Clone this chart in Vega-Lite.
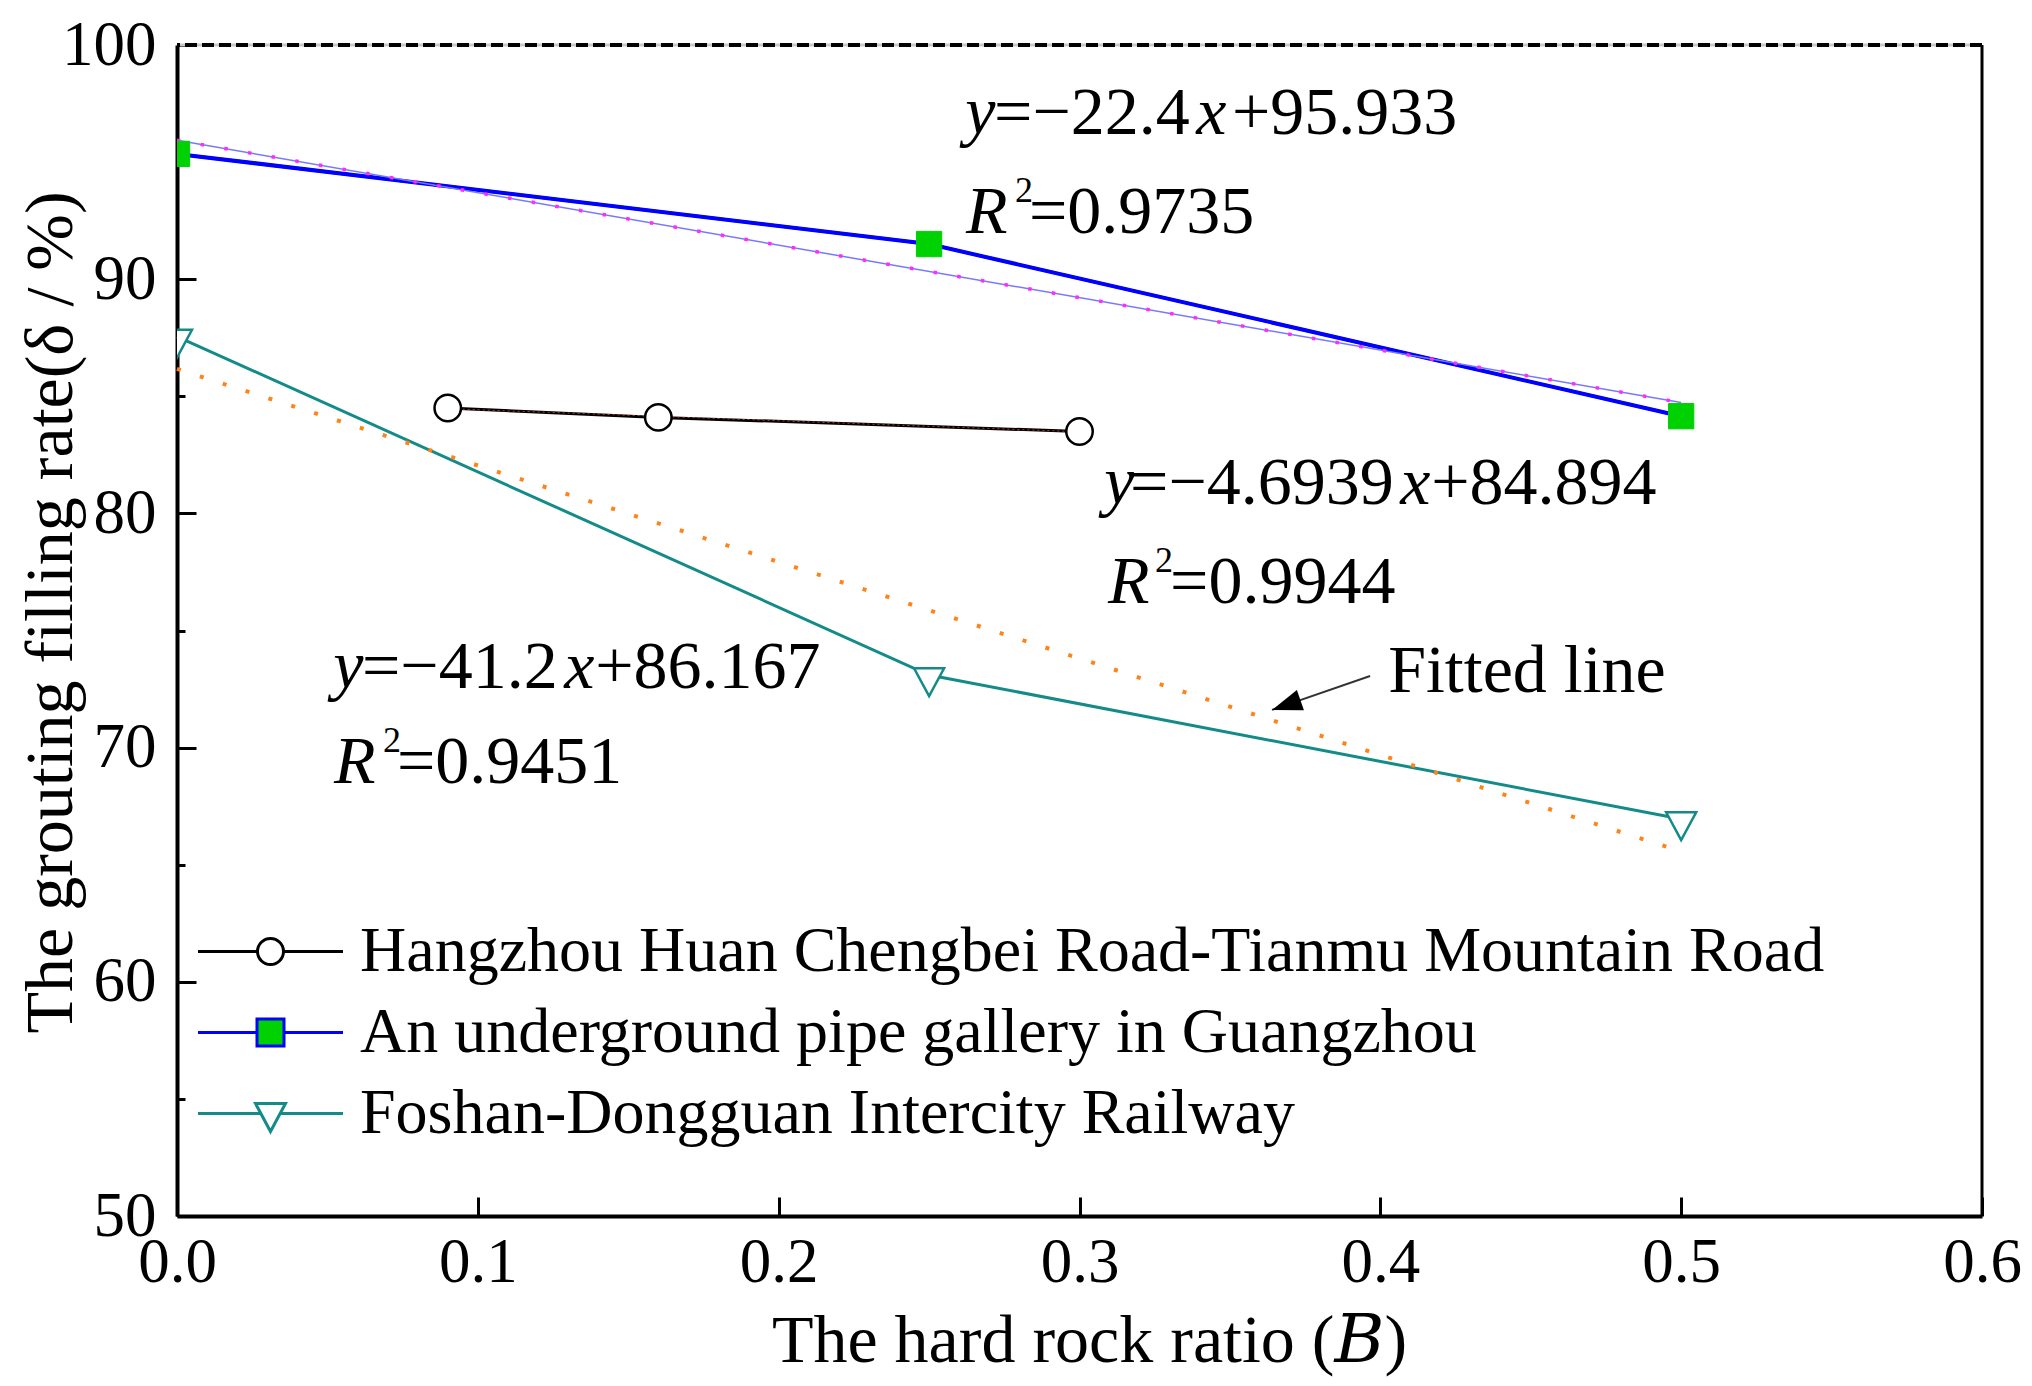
{
  "$schema": "https://vega.github.io/schema/vega-lite/v6.json",
  "width": 1805,
  "height": 1171,
  "autosize": "none",
  "padding": {"left": 177, "top": 45, "right": 50, "bottom": 170},
  "background": "white",
  "datasets": {
    "obs": [
      {"project": "Hangzhou Huan Chengbei Road-Tianmu Mountain Road", "B": 0.09, "rate": 84.5},
      {"project": "Hangzhou Huan Chengbei Road-Tianmu Mountain Road", "B": 0.16, "rate": 84.1},
      {"project": "Hangzhou Huan Chengbei Road-Tianmu Mountain Road", "B": 0.30, "rate": 83.5},
      {"project": "An underground pipe gallery in Guangzhou", "B": 0.0, "rate": 95.35},
      {"project": "An underground pipe gallery in Guangzhou", "B": 0.25, "rate": 91.5},
      {"project": "An underground pipe gallery in Guangzhou", "B": 0.5, "rate": 84.15},
      {"project": "Foshan-Dongguan Intercity Railway", "B": 0.0, "rate": 87.55},
      {"project": "Foshan-Dongguan Intercity Railway", "B": 0.25, "rate": 73.1},
      {"project": "Foshan-Dongguan Intercity Railway", "B": 0.5, "rate": 66.95}
    ],
    "fits": [
      {"project": "Hangzhou Huan Chengbei Road-Tianmu Mountain Road", "B": 0.09, "rate": 84.472},
      {"project": "Hangzhou Huan Chengbei Road-Tianmu Mountain Road", "B": 0.30, "rate": 83.486},
      {"project": "An underground pipe gallery in Guangzhou", "B": 0.0, "rate": 95.933},
      {"project": "An underground pipe gallery in Guangzhou", "B": 0.5, "rate": 84.733},
      {"project": "Foshan-Dongguan Intercity Railway", "B": 0.0, "rate": 86.167},
      {"project": "Foshan-Dongguan Intercity Railway", "B": 0.5, "rate": 65.567}
    ],
    "italic": [
      {"t": "y", "B": 0.2620, "rate": 96.2},
      {"t": "x", "B": 0.3388, "rate": 96.2},
      {"t": "R", "B": 0.2623, "rate": 91.97},
      {"t": "y", "B": 0.3082, "rate": 80.4},
      {"t": "x", "B": 0.4066, "rate": 80.4},
      {"t": "R", "B": 0.3095, "rate": 76.17},
      {"t": "y", "B": 0.0519, "rate": 72.54},
      {"t": "x", "B": 0.1287, "rate": 72.54},
      {"t": "R", "B": 0.0522, "rate": 68.49}
    ],
    "roman": [
      {"t": "=−22.4", "B": 0.2716, "rate": 96.2},
      {"t": "+95.933", "B": 0.3507, "rate": 96.2},
      {"t": "=0.9735", "B": 0.2832, "rate": 91.97},
      {"t": "=−4.6939", "B": 0.3168, "rate": 80.4},
      {"t": "+84.894", "B": 0.4169, "rate": 80.4},
      {"t": "=0.9944", "B": 0.3301, "rate": 76.17},
      {"t": "=−41.2", "B": 0.0615, "rate": 72.54},
      {"t": "+86.167", "B": 0.1390, "rate": 72.54},
      {"t": "=0.9451", "B": 0.0731, "rate": 68.49},
      {"t": "Fitted line", "B": 0.4026, "rate": 72.37}
    ],
    "sup": [
      {"t": "2", "B": 0.2786, "rate": 93.3},
      {"t": "2", "B": 0.3251, "rate": 77.5},
      {"t": "2", "B": 0.0685, "rate": 69.81}
    ],
    "arrow": [
      {"B": 0.3966, "rate": 73.06, "B2": 0.364, "rate2": 71.61}
    ]
  },
  "layer": [
    {
      "layer": [
        {
          "data": {"values": [{}]},
          "mark": {"type": "rule", "color": "#c8c8c8", "strokeWidth": 3},
          "encoding": {"y": {"datum": 100}}
        },
        {
          "data": {"values": [{}]},
          "mark": {"type": "rule", "color": "#000000", "strokeWidth": 3},
          "encoding": {"x": {"datum": 0.6}}
        },
        {
          "data": {"name": "obs"},
          "mark": {"type": "line", "strokeWidth": 3},
          "encoding": {
            "x": {
              "field": "B", "type": "quantitative",
              "scale": {"domain": [0, 0.6], "nice": false, "zero": false},
              "axis": {
                "values": [0, 0.1, 0.2, 0.3, 0.4, 0.5, 0.6],
                "format": ".1f",
                "title": "The hard rock ratio (𝐵)",
                "titleX": 912, "titleY": 145,
                "titleBaseline": "alphabetic",
                "titleAnchor": "middle",
                "tickSize": -19,
                "labelPadding": 34,
                "labelFlush": false
              }
            },
            "y": {
              "field": "rate", "type": "quantitative",
              "scale": {"domain": [50, 100], "nice": false, "zero": false},
              "axis": {
                "values": [50, 60, 70, 80, 90, 100],
                "title": "The grouting filling rate(δ / %)",
                "titleX": -106, "titleY": 567,
                "titleAngle": -90,
                "titleBaseline": "alphabetic",
                "titleAnchor": "middle",
                "tickSize": -19,
                "labelPadding": 40,
                "labelFlush": false
              }
            },
            "color": {
              "field": "project", "type": "nominal",
              "scale": {
                "domain": ["Hangzhou Huan Chengbei Road-Tianmu Mountain Road", "An underground pipe gallery in Guangzhou", "Foshan-Dongguan Intercity Railway"],
                "range": ["#000000", "#0000ff", "#128b89"]
              },
              "legend": {
                "orient": "none",
                "legendX": 52,
                "legendY": 865,
                "title": null,
                "padding": 0,
                "labelFont": "Liberation Serif",
                "labelFontSize": 64,
                "labelColor": "#000000",
                "labelLimit": 0,
                "labelOffset": 48,
                "rowPadding": 7,
                "symbolSize": 6400,
                "symbolStrokeWidth": 3,
                "encode": {
                  "symbols": {
                    "update": {
                      "shape": {"signal": "datum.value === 'Hangzhou Huan Chengbei Road-Tianmu Mountain Road' ? 'M-1.8125,0H-0.325M0.325,0H1.8125M-0.325,0A0.325,0.325,0,1,1,0.325,0A0.325,0.325,0,1,1,-0.325,0Z' : datum.value === 'An underground pipe gallery in Guangzhou' ? 'M-1.8125,0H-0.3375M0.3375,0H1.8125M-0.3375,-0.3375H0.3375V0.3375H-0.3375Z' : 'M-1.8125,0H-0.241M0.241,0H1.8125M-0.375,-0.25H0.375L0,0.45Z'"},
                      "fill": {"signal": "datum.value === 'An underground pipe gallery in Guangzhou' ? '#00d100' : '#ffffff'"}
                    }
                  }
                }
              }
            }
          }
        },
        {
          "data": {"name": "obs"},
          "transform": [{"filter": "datum.project === 'An underground pipe gallery in Guangzhou'"}],
          "mark": {"type": "line", "color": "#0000ff", "strokeWidth": 4},
          "encoding": {
            "x": {"field": "B", "type": "quantitative"},
            "y": {"field": "rate", "type": "quantitative"}
          }
        },
        {
          "data": {"name": "fits"},
          "transform": [{"filter": "datum.project === 'An underground pipe gallery in Guangzhou'"}],
          "mark": {"type": "line", "color": "#7878ff", "strokeWidth": 1.5},
          "encoding": {
            "x": {"field": "B", "type": "quantitative"},
            "y": {"field": "rate", "type": "quantitative"}
          }
        },
        {
          "data": {"name": "fits"},
          "transform": [{"filter": "datum.project === 'An underground pipe gallery in Guangzhou'"}],
          "mark": {"type": "line", "color": "#ff2bff", "strokeWidth": 3.5, "strokeDash": [3.5, 20.5]},
          "encoding": {
            "x": {"field": "B", "type": "quantitative"},
            "y": {"field": "rate", "type": "quantitative"}
          }
        },
        {
          "data": {"name": "fits"},
          "transform": [{"filter": "datum.project === 'Foshan-Dongguan Intercity Railway'"}],
          "mark": {"type": "line", "color": "#ff8418", "strokeWidth": 4, "strokeDash": [4, 20]},
          "encoding": {
            "x": {"field": "B", "type": "quantitative"},
            "y": {"field": "rate", "type": "quantitative"}
          }
        },
        {
          "data": {"name": "fits"},
          "transform": [{"filter": "datum.project === 'Hangzhou Huan Chengbei Road-Tianmu Mountain Road'"}],
          "mark": {"type": "line", "color": "#ff5050", "strokeWidth": 1, "strokeDash": [2, 3], "opacity": 0.7},
          "encoding": {
            "x": {"field": "B", "type": "quantitative"},
            "y": {"field": "rate", "type": "quantitative"}
          }
        },
        {
          "data": {"name": "obs"},
          "transform": [{"filter": "datum.project === 'Hangzhou Huan Chengbei Road-Tianmu Mountain Road'"}],
          "mark": {"type": "point", "shape": "circle", "size": 700, "fill": "#ffffff", "stroke": "#000000", "strokeWidth": 2.5, "opacity": 1, "clip": true},
          "encoding": {
            "x": {"field": "B", "type": "quantitative"},
            "y": {"field": "rate", "type": "quantitative"}
          }
        },
        {
          "data": {"name": "obs"},
          "transform": [{"filter": "datum.project === 'An underground pipe gallery in Guangzhou'"}],
          "mark": {"type": "point", "shape": "square", "size": 640, "fill": "#00d100", "stroke": "#00d100", "strokeWidth": 1, "opacity": 1, "clip": true},
          "encoding": {
            "x": {"field": "B", "type": "quantitative"},
            "y": {"field": "rate", "type": "quantitative"}
          }
        },
        {
          "data": {"name": "obs"},
          "transform": [{"filter": "datum.project === 'Foshan-Dongguan Intercity Railway'"}],
          "mark": {"type": "point", "shape": "M-1,-0.45L1,-0.45L0,1.4Z", "size": 900, "fill": "#ffffff", "stroke": "#128b89", "strokeWidth": 2.5, "opacity": 1, "clip": true},
          "encoding": {
            "x": {"field": "B", "type": "quantitative"},
            "y": {"field": "rate", "type": "quantitative"}
          }
        },
        {
          "data": {"name": "arrow"},
          "mark": {"type": "rule", "color": "#333333", "strokeWidth": 2},
          "encoding": {
            "x": {"field": "B", "type": "quantitative"},
            "y": {"field": "rate", "type": "quantitative"},
            "x2": {"field": "B2"},
            "y2": {"field": "rate2"}
          }
        },
        {
          "data": {"name": "arrow"},
          "mark": {"type": "point", "shape": "M0,0L-0.36,1L0.36,1Z", "size": 3600, "angle": 251, "filled": true, "color": "#000000", "opacity": 1},
          "encoding": {
            "x": {"field": "B2", "type": "quantitative"},
            "y": {"field": "rate2", "type": "quantitative"}
          }
        },
        {
          "data": {"name": "italic"},
          "mark": {"type": "text", "font": "Liberation Serif", "fontStyle": "italic", "fontSize": 68, "align": "left", "baseline": "alphabetic", "color": "#000000"},
          "encoding": {
            "x": {"field": "B", "type": "quantitative"},
            "y": {"field": "rate", "type": "quantitative"},
            "text": {"field": "t"}
          }
        },
        {
          "data": {"name": "roman"},
          "mark": {"type": "text", "font": "Liberation Serif", "fontSize": 68, "align": "left", "baseline": "alphabetic", "color": "#000000"},
          "encoding": {
            "x": {"field": "B", "type": "quantitative"},
            "y": {"field": "rate", "type": "quantitative"},
            "text": {"field": "t"}
          }
        },
        {
          "data": {"name": "sup"},
          "mark": {"type": "text", "font": "Liberation Serif", "fontSize": 36, "align": "left", "baseline": "alphabetic", "color": "#000000"},
          "encoding": {
            "x": {"field": "B", "type": "quantitative"},
            "y": {"field": "rate", "type": "quantitative"},
            "text": {"field": "t"}
          }
        }
      ]
    },
    {
      "data": {"values": [{}]},
      "mark": {"type": "rule", "color": "#000000", "strokeWidth": 4, "strokeDash": [12, 5]},
      "encoding": {
        "y": {
          "datum": 100,
          "axis": {
            "orient": "left",
            "values": [55, 65, 75, 85, 95],
            "tickSize": -8,
            "labels": false,
            "domain": false,
            "title": null,
            "grid": false
          }
        }
      }
    }
  ],
  "resolve": {"axis": {"y": "independent"}},
  "config": {
    "view": {"stroke": null},
    "axis": {
      "grid": false,
      "domainColor": "#000000",
      "domainWidth": 4,
      "tickColor": "#000000",
      "tickWidth": 3,
      "labelFont": "Liberation Serif",
      "labelFontSize": 63,
      "labelColor": "#000000",
      "titleFont": "Liberation Serif, DejaVu Serif",
      "titleFontSize": 68,
      "titleFontWeight": "normal",
      "titleColor": "#000000"
    }
  }
}
